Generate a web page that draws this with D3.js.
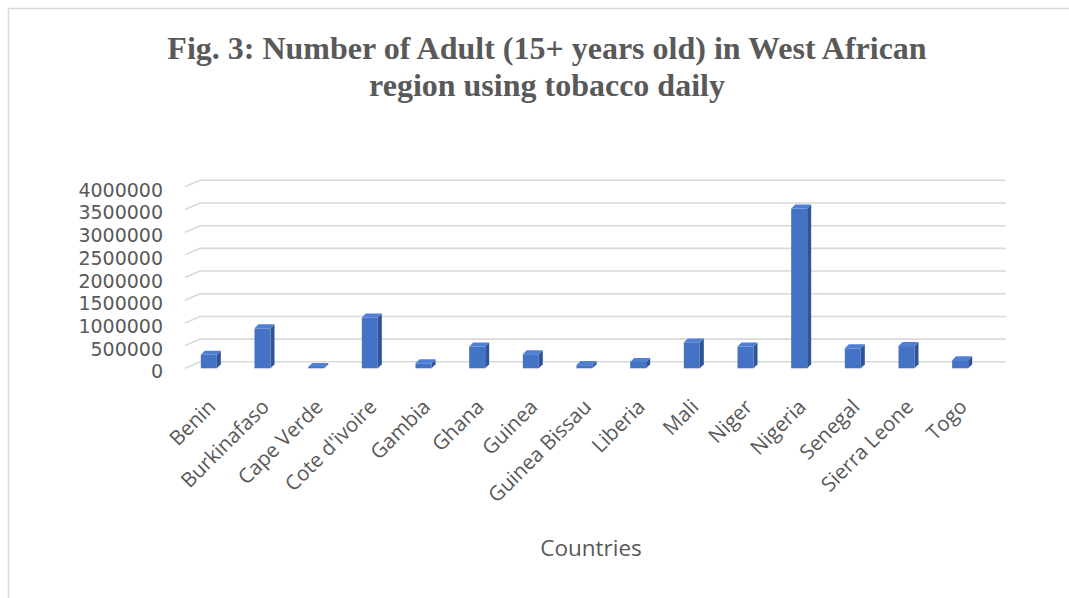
<!DOCTYPE html>
<html>
<head>
<meta charset="utf-8">
<script src="https://cdn.jsdelivr.net/npm/d3@7"></script>
<style>
  html, body { margin: 0; padding: 0; background: #ffffff; }
  svg { display: block; }
</style>
</head>
<body>
<svg id="chart" width="1069" height="598"></svg>
<script>
// Adults (15+) using tobacco daily, West African countries
const countries = ["Benin", "Burkinafaso", "Cape Verde", "Cote d'ivoire", "Gambia", "Ghana", "Guinea",
  "Guinea Bissau", "Liberia", "Mali", "Niger", "Nigeria", "Senegal", "Sierra Leone", "Togo"];
const dailyUsers = [300000, 880000, 30000, 1120000, 110000, 480000, 310000,
  70000, 140000, 570000, 480000, 3520000, 440000, 490000, 180000];
const yTicks = [0, 500000, 1000000, 1500000, 2000000, 2500000, 3000000, 3500000, 4000000];
const titleLines = ["Fig. 3: Number of Adult (15+ years old) in West African", "region using tobacco daily"];
const xAxisTitle = "Countries";

const svg = d3.select("#chart");
const textColor = "#595959";
const labelFont = "'Open Sans', sans-serif";

// chart frame
svg.append("rect")
  .attr("x", 8.5).attr("y", 8.5)
  .attr("width", 1200).attr("height", 800)
  .attr("fill", "#fff").attr("stroke", "#d9d9d9").attr("stroke-width", 1.5);

// title
svg.append("g").selectAll("text").data(titleLines).join("text")
  .attr("x", 547).attr("y", (d, i) => 59 + i * 37)
  .attr("text-anchor", "middle")
  .attr("font-family", "'Liberation Serif', 'Times New Roman', serif")
  .attr("font-weight", "bold").attr("font-size", 32)
  .attr("fill", textColor)
  .text(d => d);

// scales (front plane of the 3D floor)
const y = d3.scaleLinear().domain([0, 4000000]).range([368.3, 186.8]);
const x = d3.scaleBand().domain(countries).range([183, 988]);
const depth = 15;      // horizontal shift from front plane to back wall
const rise = 6.5;      // vertical shift from front plane to back wall

// back-wall gridlines with their floor-side diagonals
const grid = svg.append("g");
grid.selectAll("path").data(yTicks).join("path")
  .attr("d", v => {
    const yf = y(v);
    return `M${185},${yf} L${185 + depth},${yf - rise} L${1006},${yf - rise}`;
  })
  .attr("fill", "none").attr("stroke", "#d9d9d9").attr("stroke-width", 1.6);

// y-axis tick labels
const yAxis = d3.axisLeft(y).tickValues(yTicks).tickFormat(d3.format("d")).tickSize(0).tickPadding(0);
const yg = svg.append("g").attr("transform", "translate(163,3.4)").call(yAxis);
yg.select(".domain").remove();
yg.selectAll("text")
  .attr("font-family", "'DejaVu Sans', sans-serif").attr("font-size", 19).attr("fill", textColor);

// 3D columns: front face, right side, top
const barW = 16, d = 4;
const bars = svg.append("g").selectAll("g").data(countries.map((c, i) => ({ c, v: dailyUsers[i] })))
  .join("g");
const bx = p => x(p.c) + x.bandwidth() / 2 - barW / 2 - 1;
bars.append("path")
  .attr("d", p => {
    const x0 = bx(p) + barW, yt = y(p.v), yb = y(0);
    return `M${x0},${yt} L${x0 + d},${yt - d} L${x0 + d},${yb - d} L${x0},${yb} Z`;
  })
  .attr("fill", "#2f5597");
bars.append("path")
  .attr("d", p => {
    const x0 = bx(p), yt = y(p.v);
    return `M${x0},${yt} L${x0 + d},${yt - d} L${x0 + barW + d},${yt - d} L${x0 + barW},${yt} Z`;
  })
  .attr("fill", "#4f7fd4");
bars.append("rect")
  .attr("x", p => bx(p)).attr("y", p => y(p.v))
  .attr("width", barW).attr("height", p => y(0) - y(p.v))
  .attr("fill", "#4472c4");

// rotated category labels
const xAxis = d3.axisBottom(x).tickSize(0).tickPadding(0);
const xg = svg.append("g").attr("transform", "translate(0,403)").call(xAxis);
xg.select(".domain").remove();
xg.selectAll("text")
  .attr("font-family", labelFont).attr("font-size", 20.5).attr("fill", textColor)
  .attr("text-anchor", "end")
  .attr("dy", "0.35em")
  .attr("transform", "translate(2,0) rotate(-45)");

// x-axis title
svg.append("text")
  .attr("x", 591).attr("y", 556)
  .attr("text-anchor", "middle")
  .attr("font-family", labelFont).attr("font-size", 22.5).attr("fill", textColor)
  .text(xAxisTitle);
</script>
</body>
</html>
